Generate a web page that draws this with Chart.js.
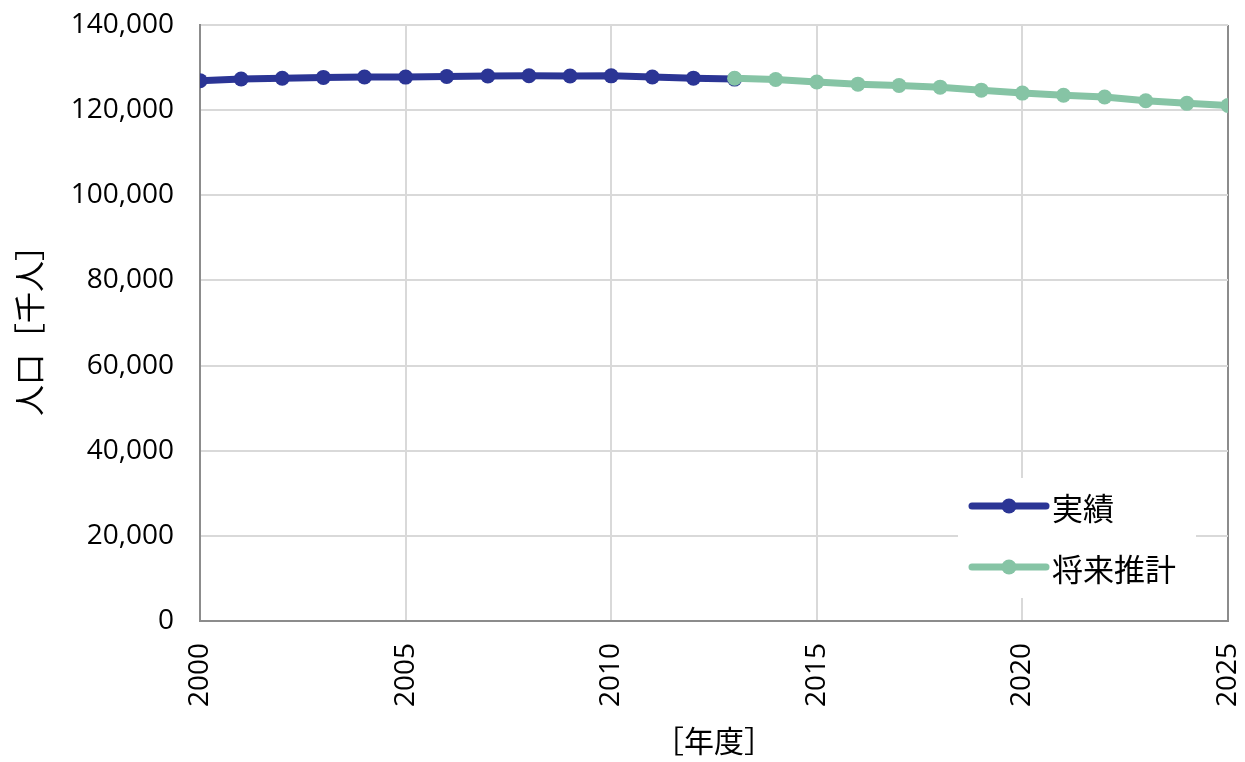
<!DOCTYPE html>
<html>
<head>
<meta charset="utf-8">
<script src="https://cdn.jsdelivr.net/npm/chart.js@4"></script>
<style>
  html, body { margin: 0; padding: 0; background: #fff; }
  #wrap { width: 1245px; height: 762px; position: relative; }
</style>
</head>
<body>
<div id="wrap"><canvas id="chart" width="1245" height="762"></canvas></div>
<script>
// values (thousand persons)
const actualYears = [2000, 2001, 2002, 2003, 2004, 2005, 2006, 2007, 2008, 2009, 2010, 2011, 2012, 2013];
const actualValues = [126926, 127316, 127486, 127694, 127787, 127768, 127901, 128033, 128084, 128032, 128057, 127799, 127515, 127298];
const projYears = [2013, 2014, 2015, 2016, 2017, 2018, 2019, 2020, 2021, 2022, 2023, 2024, 2025];
const projValues = [127500, 127200, 126600, 126100, 125800, 125400, 124700, 124000, 123500, 123100, 122200, 121600, 121100];
const seriesNames = ['実績', '将来推計'];
const seriesColors = ['#2b3595', '#86c4a5'];
const yTicks = [0, 20000, 40000, 60000, 80000, 100000, 120000, 140000];

const toPoints = (xs, ys) => xs.map((x, i) => ({ x: x, y: ys[i] }));

const NUM_FONT = '"Open Sans", "Noto Sans", sans-serif';
const JP_FONT = '"Noto Sans CJK JP", sans-serif';

// legend drawn inside the plot, lower right, on a white box
const insideLegend = {
    id: 'insideLegend',
    afterDraw(chart) {
        const ctx = chart.ctx;
        const a = chart.chartArea;
        const boxX = a.right - 270, boxY = a.bottom - 143;
        ctx.save();
        ctx.fillStyle = '#ffffff';
        ctx.fillRect(boxX, boxY, 238, 120);
        chart.data.datasets.forEach((ds, i) => {
            const y = boxY + 28 + i * 61;
            const x0 = boxX + 14;
            ctx.strokeStyle = ds.borderColor;
            ctx.lineWidth = 7;
            ctx.lineCap = 'round';
            ctx.beginPath();
            ctx.moveTo(x0, y);
            ctx.lineTo(x0 + 74, y);
            ctx.stroke();
            ctx.fillStyle = ds.borderColor;
            ctx.beginPath();
            ctx.arc(x0 + 37, y, 7.5, 0, Math.PI * 2);
            ctx.fill();
            ctx.fillStyle = '#000';
            ctx.font = '31px ' + JP_FONT;
            ctx.textBaseline = 'middle';
            ctx.textAlign = 'left';
            ctx.fillText(ds.label, x0 + 80, y + 2);
        });
        ctx.restore();
    }
};

const ctx = document.getElementById('chart').getContext('2d');
new Chart(ctx, {
    type: 'line',
    data: {
        datasets: [
            {
                label: seriesNames[0],
                data: toPoints(actualYears, actualValues),
                borderColor: seriesColors[0],
                backgroundColor: seriesColors[0],
                borderWidth: 7,
                pointRadius: 7.5,
                pointBorderWidth: 0,
                tension: 0,
                order: 1
            },
            {
                label: seriesNames[1],
                data: toPoints(projYears, projValues),
                borderColor: seriesColors[1],
                backgroundColor: seriesColors[1],
                borderWidth: 7,
                pointRadius: 7.5,
                pointBorderWidth: 0,
                tension: 0,
                order: 0
            }
        ]
    },
    options: {
        responsive: false,
        animation: false,
        layout: { padding: { top: 25, right: 17, left: 0, bottom: 0 } },
        plugins: {
            legend: { display: false },
            tooltip: { enabled: false }
        },
        scales: {
            x: {
                type: 'linear',
                min: 2000,
                max: 2025,
                afterFit(scale) {
                    scale.height = 141;
                    scale.paddingLeft = 0;
                    scale.paddingRight = 0;
                },
                ticks: {
                    stepSize: 5,
                    minRotation: 90,
                    maxRotation: 90,
                    padding: 22,
                    color: '#000',
                    font: { family: NUM_FONT, size: 28 },
                    callback: v => String(v)
                },
                grid: {
                    drawTicks: false,
                    lineWidth: 2,
                    color: c => (c.tick && c.tick.value === 2025) ? '#8c8c8c' : '#d9d9d9'
                },
                border: { color: '#8c8c8c', width: 2 },
                title: {
                    display: true,
                    text: '［年度］',
                    color: '#000',
                    font: { family: JP_FONT, size: 30 },
                    padding: { top: 0, bottom: 3 }
                }
            },
            y: {
                min: 0,
                max: 140000,
                afterFit(scale) {
                    scale.width = 200;
                    scale.paddingTop = 0;
                    scale.paddingBottom = 0;
                },
                afterBuildTicks(scale) { scale.ticks = yTicks.map(v => ({ value: v })); },
                ticks: {
                    padding: 26,
                    color: '#000',
                    font: { family: NUM_FONT, size: 28 },
                    callback: v => v.toLocaleString('en-US')
                },
                grid: { drawTicks: false, lineWidth: 2, color: '#d9d9d9' },
                border: { color: '#8c8c8c', width: 2 },
                title: {
                    display: true,
                    text: '人口［千人］',
                    color: '#000',
                    font: { family: JP_FONT, size: 31 },
                    padding: { top: 11, bottom: 0 }
                }
            }
        }
    },
    plugins: [insideLegend]
});
</script>
</body>
</html>
